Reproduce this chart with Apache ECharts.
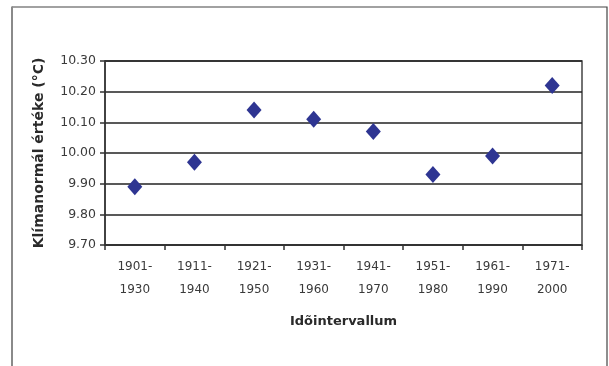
<!DOCTYPE html>
<html>
<head>
<meta charset="utf-8">
<script src="https://cdn.jsdelivr.net/npm/echarts@6/dist/echarts.min.js"></script>
<style>
html,body{margin:0;padding:0;background:#fff;}
#chart{width:609px;height:366px;}
</style>
</head>
<body>
<div id="chart"></div>
<script>
const categories = ['1901-\n1930','1911-\n1940','1921-\n1950','1931-\n1960','1941-\n1970','1951-\n1980','1961-\n1990','1971-\n2000'];
const values = [9.89, 9.97, 10.14, 10.11, 10.07, 9.93, 9.99, 10.22];
const yTitle = 'Klímanormál értéke (°C)';
const xTitle = 'Idõintervallum';

const FONT = 'DejaVu Sans, Liberation Sans, sans-serif';
const chart = echarts.init(document.getElementById('chart'), null, {renderer:'canvas'});
chart.setOption({
  animation:false,
  backgroundColor:'#fff',
  graphic:[
    {type:'polyline', shape:{points:[[12,7],[607,7],[607,366]]}, style:{stroke:'#444', lineWidth:1.2, fill:null}, z:10},
    {type:'line', shape:{x1:12, y1:6.5, x2:12, y2:366}, style:{stroke:'#8a8a8a', lineWidth:2}, z:10}
  ],
  grid:{left:105, right:27, top:61, bottom:121, show:true, borderColor:'#444', borderWidth:1.5, backgroundColor:'#fff'},
  xAxis:{
    type:'category', data:categories, boundaryGap:true,
    axisLine:{show:true, lineStyle:{color:'#333', width:1.5}},
    axisTick:{show:true, inside:false, length:5, lineStyle:{color:'#333', width:1.5}},
    axisLabel:{color:'#3a3a3a', fontSize:12, fontFamily:FONT, lineHeight:23, margin:10},
    name:xTitle, nameLocation:'middle', nameGap:70,
    nameTextStyle:{color:'#2a2a2a', fontSize:13, fontWeight:'bold', fontFamily:FONT},
    splitLine:{show:false}
  },
  yAxis:{
    type:'value', min:9.7, max:10.3, interval:0.1,
    axisLine:{show:true, lineStyle:{color:'#333', width:1.5}},
    axisTick:{show:true, length:5, lineStyle:{color:'#333', width:1.5}},
    axisLabel:{color:'#3a3a3a', fontSize:12.5, fontFamily:FONT, margin:9, formatter:v=>v.toFixed(2)},
    splitLine:{show:true, lineStyle:{color:'#222', width:1.5}},
    name:yTitle, nameLocation:'middle', nameGap:59, nameRotate:90,
    nameTextStyle:{color:'#2a2a2a', fontSize:14, fontWeight:'bold', fontFamily:FONT}
  },
  series:[{
    type:'scatter', data:values, symbol:'diamond', symbolSize:[15,17],
    itemStyle:{color:'#2e3592', opacity:1}
  }]
});
</script>
</body>
</html>
